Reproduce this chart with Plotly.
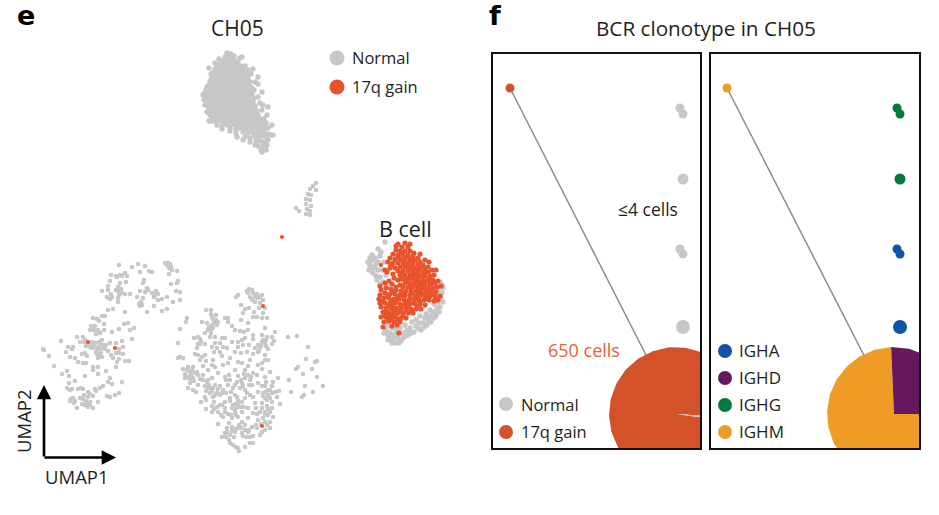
import numpy as np
import plotly.graph_objects as go

# UMAP positions (plot-wide scale, second coordinate runs downward)
cluster_top = [(227,53),(231,54),(225,57),(229,57),(234,56),(222,61),(226,60),(230,61),(234,60),(238,62),
(217,65),(221,64),(225,65),(229,64),(233,65),(237,64),(241,66),(209,68),(215,69),(219,68),(223,69),(227,68),(231,69),(235,68),(239,69),(243,70),
(213,73),(217,72),(221,73),(225,72),(229,73),(233,72),(237,73),(241,72),(245,74),(248,70),(212,77),(216,76),(220,77),(224,76),(228,77),(232,76),(236,77),(240,76),(244,77),(248,78),
(210,81),(214,80),(218,81),(222,80),(226,81),(230,80),(234,81),(238,80),(242,81),(246,80),(250,82),(209,85),(213,84),(217,85),(221,84),(225,85),(229,84),(233,85),(237,84),(241,85),(245,84),(249,85),(252,88),
(206,90),(210,89),(214,88),(218,89),(222,88),(226,89),(230,88),(234,89),(238,88),(242,89),(246,88),(250,90),(208,93),(212,92),(216,93),(220,92),(224,93),(228,92),(232,93),(236,92),(240,93),(244,92),(248,93),(252,94),
(206,97),(210,96),(214,97),(218,96),(222,97),(226,96),(230,97),(234,96),(238,97),(242,96),(246,97),(250,96),(254,98),(209,101),(213,100),(217,101),(221,100),(225,101),(229,100),(233,101),(237,100),(241,101),(245,100),(249,101),(253,102),
(207,105),(211,104),(215,105),(219,104),(223,105),(227,104),(231,105),(235,104),(239,105),(243,104),(247,105),(251,104),(255,106),(209,109),(213,108),(217,109),(221,108),(225,109),(229,108),(233,109),(237,108),(241,109),(245,108),(249,109),(253,108),(257,111),
(210,113),(214,112),(218,113),(222,112),(226,113),(230,112),(234,113),(238,112),(242,113),(246,112),(250,113),(254,112),(258,115),(212,117),(216,116),(220,117),(224,116),(228,117),(232,116),(236,117),(240,116),(244,117),(248,116),(252,117),(256,116),(260,119),
(212,121),(218,120),(222,121),(226,120),(230,121),(234,120),(238,121),(242,120),(246,121),(250,120),(254,121),(258,120),(262,122),(217,125),(224,124),(228,125),(232,124),(236,125),(240,124),(244,125),(248,124),(252,125),(256,124),(260,125),(264,126),
(222,129),(230,128),(236,129),(240,128),(244,129),(248,128),(252,129),(256,128),(260,129),(264,130),(268,128),(236,133),(243,132),(248,133),(252,132),(256,133),(260,132),(264,133),(268,134),(245,137),(250,138),(254,136),(258,137),(262,136),(266,137),(271,135),
(250,142),(256,141),(260,141),(264,142),(268,140),(258,146),(263,146),(267,145),(261,150),(266,150)]

cluster_top_rim = [(242,57),(253,69),(251,74),(258,77),(255,82),(258,84),(254,90),(262,92),(258,97),(260,103),(263,105),(268,107),(262,110),(267,115),(264,119),(266,123),(272,125),(273,135),(205,105),(204,100),(207,112),(210,115),(214,120),(217,122),(222,126),(230,131),(237,137),(243,140),(255,145),(265,148),(262,152),(203,95),(207,87),(211,74),(215,63),(219,59),(233,58),(240,58),(245,66),(249,73),(205,93),(209,121)]

cluster_upper_mid = [(316,183),(313,186),(310,189),(316,190),(308,194),(311,195),(306,199),(310,200),(306,204),(311,206),(296,208),(307,209),(310,211),(299,211),(306,214),(310,215)]

cluster_left_upper = [(119,265),(132,267),(138,264),(145,266),(165,263),(168,263),(170,264),(169,268),(172,270),(177,271),(169,274),(140,272),(149,271),(152,272),(125,273),(127,276),(111,275),(116,276),(120,275),(122,276),(110,281),(108,286),(120,283),(118,287),(116,290),(126,282),(144,280),(143,283),(178,281),(177,283),(171,284),(102,291),(108,290),(147,288),(145,292),(140,291),(176,291),(180,292),(122,293),(125,294),(130,294),(111,294),(107,297),(110,299),(118,298),(118,302),(137,297),(143,298),(152,293),(154,297),(158,294),(158,300),(162,299),(167,297),(173,302),(180,300),(139,304),(142,305),(154,306),(147,312),(162,311),(167,309),(108,310),(113,309),(125,312),
(167,265),(171,267),(118,291),(121,289),(119,295),(148,290),(155,295),(156,291),(141,302),(140,306),(168,263),(117,277),(112,297)]

cluster_left_lower = [(93,318),(97,319),(99,321),(102,316),(105,316),(104,324),(91,326),(95,326),(90,330),(94,330),(98,330),(100,333),(96,334),(104,330),(112,332),(119,329),(124,324),(128,323),(130,330),(134,328),(132,339),(61,341),(77,337),(83,337),(80,342),(85,340),(88,345),(93,345),(98,347),(102,340),(103,345),(92,348),(97,349),(100,349),(105,349),(110,343),(116,343),(122,341),(123,347),(108,351),(119,349),(116,353),(111,355),(119,353),(123,354),(119,359),(125,361),(129,361),(117,362),(116,367),(113,358),(98,356),(102,357),(85,353),(82,354),(87,356),(75,358),(78,362),(83,363),(86,363),(70,357),(66,352),(68,347),(73,347),(72,349),(43,349),(44,350),(49,356),(54,366),(62,374),(67,371),(69,376),(93,367),(98,367),(93,370),(106,371),(98,374),(85,376),(75,381),(69,383),(110,378),(108,382),(112,384),(122,382),(67,388),(72,389),(78,389),(83,389),(95,389),(100,388),(103,386),(88,392),(93,396),(88,397),(80,398),(73,398),(70,401),(75,401),(83,399),(107,396),(110,397),(115,395),(119,393),(98,402),(87,403),(90,405),(82,404),(77,408),(93,408),(88,407),(90,347),(95,343),(100,344),(86,346),(96,352),(101,353),
(92,342),(87,343),(90,345),(84,342),(94,347),(103,348),(99,342),(106,345),(98,358),(100,355),(97,354),(70,390),(71,399),(74,403),(85,405),(86,401),(90,402),(81,388),(84,395),(90,394),(96,391)]

cluster_middle = [(249,289),(248,293),(253,293),(257,294),(262,295),(250,297),(258,298),(263,300),(252,300),(255,302),(260,303),(238,295),(236,297),(241,305),(245,309),(249,308),(243,313),(254,312),(259,308),(265,308),(263,313),(257,317),(253,317),(262,318),(267,318),(241,320),(248,323),
(206,310),(211,310),(211,314),(216,315),(187,318),(186,322),(202,322),(207,323),(213,319),(218,322),(225,318),(228,318),(228,322),(212,325),(217,325),(208,330),(213,328),(211,333),(232,326),(235,330),(240,331),(265,328),(275,332),(180,329),(178,343),(194,338),(198,337),(201,341),(198,344),(197,348),(210,337),(215,337),(222,338),(225,338),(232,342),(215,343),(212,347),(220,343),(223,347),(217,348),(220,352),(227,348),(238,342),(242,340),(245,338),(253,335),(253,339),(262,335),(267,337),(272,337),(274,341),(262,342),(265,343),(258,345),(255,348),(260,348),(238,347),(243,345),(241,353),(247,352),(253,354),(265,355),(265,360),(268,360),(262,363),(258,365),(262,369),
(195,354),(198,355),(202,357),(205,355),(200,360),(206,361),(180,357),(178,358),(183,358),(213,360),(212,365),(215,367),(230,358),(223,365),(228,363),(238,362),(242,363),(248,366),(183,369),(188,367),(193,367),(190,372),(195,373),(188,377),(185,378),(193,378),(198,375),(203,375),(200,379),(190,383),(212,378),(218,373),(225,377),(229,375),(235,370),(245,370),(248,375),(253,373),(245,378),(250,380),(257,375),(265,377),(270,372),(237,382),(242,383),(252,385),(258,383),(278,378),(273,382),
(188,388),(193,390),(198,385),(205,386),(208,388),(213,388),(220,386),(223,390),(217,393),(210,393),(205,397),(201,402),(213,397),(220,395),(233,388),(240,388),(245,390),(262,386),(265,386),(270,390),(263,393),(268,395),(275,392),(279,391),(277,397),(267,400),(272,402),(280,404),(250,395),(245,398),(253,397),(237,397),(230,398),(225,402),(242,402),(255,403),(262,403),(267,406),(212,406),(217,407),(222,405),(206,409),(212,412),(218,412),(225,412),(223,417),(238,407),(235,412),(242,412),(238,417),(248,408),(253,413),(260,412),(265,412),(270,412),(273,417),(268,415),(263,418),(258,420),(270,422),(232,418),(229,423),(242,422),(248,418),(218,424),(232,427),(227,428),(238,428),(245,425),(252,427),(257,428),(267,425),(270,428),(265,430),(225,433),(222,437),(230,435),(235,432),(242,433),(248,432),(247,437),(253,436),(260,435),(250,443),(253,443),(230,443),(233,445),(238,448),(245,447),(239,451),(236,447),
(203,380),(208,380),(228,385),(231,392),(236,404),(232,408),(228,414),(244,407),(256,408),(258,392),(266,382),(272,386),(203,366),(208,370),(196,392),(214,402),(226,393),(238,376),(214,352),(205,344),(235,352),(249,345),(248,330),(244,332),(222,356),(250,360),(206,400),(258,352),(272,344),(268,349),
(252,290),(247,291),(255,297),(260,297),(212,317),(216,320),(214,323),(209,327),(211,330),(205,333),(200,339),(200,344),(263,340),(266,340),(261,346),(266,346),(259,351),(187,370),(192,370),(185,374),(191,375),(194,381),(197,372),(190,379),(209,385),(215,385),(218,389),(212,391),(206,391),(215,395),(222,393),(235,385),(241,380),(243,386),(249,385),(247,393),(268,390),(272,393),(265,398),(270,398),(263,396),(266,392),(235,395),(230,401),(238,400),(233,405),(238,403),(241,407),(236,415),(235,409),(231,415),(265,415),(268,409),(272,408),(262,408),(257,414),(265,422),(261,424),(256,425),(245,430),(241,428),(236,429),(232,431),(227,432),(239,425),(249,430),(226,437),(229,440),(234,437),(243,436),(250,437),(262,432),(220,405),(225,408),(214,409),(221,415),(211,388),(207,382),(251,377),(244,374),(226,380),(230,380)]

cluster_right_sparse = [(288,337),(297,336),(308,347),(306,359),(317,361),(315,362),(298,367),(296,369),(312,369),(303,374),(317,377),(289,380),(305,386),(323,386),(291,392),(313,392),(304,395),(302,397)]

cluster_b_normal = [(385,242),(378,249),(372,260),(370,265),(375,267),(378,270),(373,273),(380,277),(383,282),(387,287),(368,262),(375,258),(380,256),(384,262),(372,255),(378,262),(382,270),(386,275),(376,276),(380,284),(388,335),(393,340),(398,338),(403,333),(410,328),(423,323),(432,317),(440,307),(442,293),(440,282),
(386,330),(390,333),(394,335),(399,343),(395,343),(403,338),(408,335),(414,332),(418,328),(428,320),(436,312),(438,302),(443,288),(436,296),(420,316),(412,322),(405,325),(400,328),(392,328),(430,310),(426,314),(416,320),(434,304),(438,290),(441,298),(396,330),(407,330),(388,325),(434,318),(424,327),
(427,325),(431,322),(421,330),(416,326),(411,333),(405,336),(398,333),(390,338),(437,308),(433,312),(429,316),(439,312),(443,302),(442,285),(436,316),(425,318),(419,323),(401,341),(392,343),(388,340),(384,333),(376,264),(381,252),(373,268),(369,270),(377,280),(370,258)]

cluster_b_gain = [(405,243),(398,244),(402,247),(408,247),(396,250),(400,251),(405,251),(410,251),(414,253),(393,254),(398,255),(403,255),(408,255),(413,256),(418,258),(425,260),(390,258),(395,259),(400,259),(405,259),(410,259),(415,260),(420,262),(388,262),(393,263),(398,263),(403,263),(408,263),(413,264),(418,264),(423,265),(429,262),
(400,267),(405,267),(410,267),(415,268),(420,268),(425,268),(395,268),(390,268),(398,271),(403,271),(408,271),(413,271),(418,272),(423,272),(428,272),(432,270),(385,270),(393,274),(400,275),(405,275),(410,275),(415,275),(420,276),(425,276),(430,276),(434,275),
(403,279),(408,279),(413,279),(418,279),(423,280),(428,280),(433,280),(398,280),(405,283),(410,283),(415,283),(420,283),(425,284),(430,284),(435,283),(438,281),(400,285),(392,284),(385,283),(403,287),(408,287),(413,287),(418,287),(423,288),(428,288),(433,288),(437,287),
(381,290),(386,288),(391,289),(396,290),(401,291),(406,291),(411,291),(416,291),(421,292),(426,292),(431,292),(436,292),(380,295),(385,293),(390,294),(395,294),(400,295),(405,295),(410,295),(415,296),(420,296),(425,296),(430,296),(435,297),(440,296),
(379,299),(384,298),(389,298),(394,299),(399,299),(404,300),(409,300),(414,300),(419,300),(424,300),(429,300),(434,301),(380,303),(385,303),(390,303),(395,303),(400,304),(405,304),(410,304),(415,304),(420,304),(425,305),
(381,307),(386,308),(391,308),(396,308),(401,308),(406,308),(411,309),(416,309),(421,309),(383,312),(388,312),(393,312),(398,313),(403,313),(408,313),(413,313),(381,317),(386,317),(391,317),(396,317),(401,318),(406,318),(384,322),(389,321),(394,322),(400,322),(383,327),(392,326),(399,333),
(402,253),(407,257),(412,261),(404,265),(409,269),(414,273),(419,269),(424,275),(429,279),(411,277),(416,281),(421,285),(407,281),(412,285),(426,289),(431,290),(396,287),(393,292),(388,296),(383,301),(392,301),(398,297),(404,293),(410,298),(417,298),(422,294),(427,298),(418,307),(408,306),(400,311),(394,315),(388,319),(403,316),(412,311),(392,306),(386,311),(397,325),(401,279),(394,278),(389,281),(380,286),(387,272),(391,265),(396,246),(410,244),(420,254),(428,267),(436,270),(441,286),(438,300),
(415,285),(420,290),(425,282),(418,277),(413,269),(408,265),(403,261),(398,257),(410,287),(404,297),(414,302),(408,302),(420,302),(428,294),(418,294),(412,293),(396,301),(389,305),(395,310),(401,306),(406,310),(390,314),(385,315),(392,319),(398,320),(425,272),(431,284),(433,294),(405,277),(402,273)]

gain_scattered = [(282,237),(88,342),(115,348),(263,306),(262,426),(381,265)]

# Clonotype network: small clones and the large clone, with heavy-chain labels
small_x_left = [680,683,683,680,683,683]
small_x_right = [897,900,900,897,900,900]
small_y = [108,114,179,249,254,327]
small_sizes = [9,9,11,9,9,14]
small_isotype = ["#017a41","#017a41","#017a41","#0f55a5","#0f55a5","#0f55a5"]
single_x_left, single_x_right, single_y = 510, 727, 88
large_x_left, large_x_right, large_y = 676, 894, 414
large_radius = 67
large_status_cells = {"17q gain": 642, "Normal": 8}
large_isotype_cells = {"IGHM": 483, "IGHD": 167}

GREY, RED, PIE_RED = "#c6c7c9", "#e9532b", "#d4522a"
BLUE, PURPLE, GREEN, ORANGE = "#0f55a5", "#66185f", "#017a41", "#ef9c26"
FONT = "Open Sans"
TEXT = "#231f20"


def sector(cx, cy, r, a0, a1):
    """Polygon of a pie slice between two angles (degrees, anticlockwise from east)."""
    n = max(2, int(abs(a1 - a0) / 14) + 1)
    t = np.radians(np.linspace(a0, a1, n))
    return ([cx, *(cx + r * np.cos(t)), cx], [cy, *(cy - r * np.sin(t)), cy])


def dots(x, y, size, color, xa, ya):
    fig.add_trace(go.Scatter(x=x, y=y, mode="markers", xaxis=xa, yaxis=ya,
                             marker=dict(size=size, color=color, opacity=1, line=dict(width=0))))


def slice_(cx, cy, a0, a1, color, xa, ya):
    xs, ys = sector(cx, cy, large_radius, a0, a1)
    fig.add_trace(go.Scatter(x=xs, y=ys, mode="lines", fill="toself", fillcolor=color,
                             line=dict(width=0), xaxis=xa, yaxis=ya))


fig = go.Figure()

dense_grey = cluster_top + cluster_top_rim + cluster_b_normal
sparse_grey = cluster_upper_mid + cluster_left_upper + cluster_left_lower + cluster_middle + cluster_right_sparse
dots([p[0] for p in dense_grey], [p[1] for p in dense_grey], 5.4, GREY, "x", "y")
dots([p[0] for p in sparse_grey], [p[1] for p in sparse_grey], 4.6, GREY, "x", "y")
dots([p[0] for p in cluster_b_gain], [p[1] for p in cluster_b_gain], 5.2, RED, "x", "y")
dots([p[0] for p in gain_scattered], [p[1] for p in gain_scattered], 4.2, RED, "x", "y")
dots([337, 337], [58, 87], 15, [GREY, RED], "x", "y")

# panel f: edges, nodes
for ax_x, ax_y, sx, x0, cx, node_colors, single_color in [
    ("x2", "y2", small_x_left, single_x_left, large_x_left, [GREY] * 6, PIE_RED),
    ("x3", "y3", small_x_right, single_x_right, large_x_right, small_isotype, ORANGE),
]:
    fig.add_trace(go.Scatter(x=[x0, cx], y=[single_y, large_y], mode="lines",
                             line=dict(color="#8c8c8c", width=1.5), xaxis=ax_x, yaxis=ax_y))
    dots(sx, small_y, small_sizes, node_colors, ax_x, ax_y)
    dots([x0], [single_y], 9, single_color, ax_x, ax_y)

# status pie: the normal slice sits just below east
normal_deg = 360 * large_status_cells["Normal"] / sum(large_status_cells.values())
slice_(large_x_left, large_y, -3.5, 360 - 3.5 - normal_deg, PIE_RED, "x2", "y2")
slice_(large_x_left, large_y, -3.5 - normal_deg, -3.5, GREY, "x2", "y2")

# isotype pie: IGHD from east anticlockwise to just past north
ighd_deg = 360 * large_isotype_cells["IGHD"] / sum(large_isotype_cells.values())
slice_(large_x_right, large_y, ighd_deg, 360, ORANGE, "x3", "y3")
slice_(large_x_right, large_y, 0, ighd_deg, PURPLE, "x3", "y3")

# in-panel legends
dots([506, 506], [404, 432], 14, [GREY, PIE_RED], "x2", "y2")
dots([725, 725, 725, 725], [351, 378, 405, 432], 14, [BLUE, PURPLE, GREEN, ORANGE], "x3", "y3")

hidden = dict(visible=False, fixedrange=True)
panel = dict(showgrid=False, zeroline=False, showticklabels=False, ticks="", showline=True, mirror=True,
             linecolor="#111111", linewidth=2, fixedrange=True)
W, H = 939, 515
fig.update_layout(
    width=W, height=H, margin=dict(l=0, r=0, t=0, b=0), paper_bgcolor="white", plot_bgcolor="rgba(0,0,0,0)",
    showlegend=False, font=dict(family=FONT, color=TEXT),
    xaxis=dict(domain=[0, 1], range=[0, W], **hidden),
    yaxis=dict(domain=[0, 1], range=[H, 0], **hidden),
    xaxis2=dict(domain=[493 / W, 700 / W], range=[493, 700], anchor="y2", **panel),
    yaxis2=dict(domain=[1 - 448 / H, 1 - 54 / H], range=[448, 54], anchor="x2", **panel),
    xaxis3=dict(domain=[711 / W, 919 / W], range=[711, 919], anchor="y3", **panel),
    yaxis3=dict(domain=[1 - 448 / H, 1 - 54 / H], range=[448, 54], anchor="x3", **panel),
)


def label(x, y, text, size=16, color=TEXT, anchor="left", angle=0, weight=None, family=FONT):
    fig.add_annotation(x=x, y=y, xref="x", yref="y", text=text, showarrow=False, xanchor=anchor, yanchor="middle",
                       textangle=angle, borderpad=0, borderwidth=0,
                       font=dict(size=size, color=color, family=family, weight=weight))


label(26, 15.8, "e", 27, "#000000", "center", weight=700, family="DejaVu Sans")
label(495, 15.8, "f", 27, "#000000", "center", weight=700, family="DejaVu Sans")
label(237, 27.5, "CH05", 21, anchor="center")
label(706, 27.5, "BCR clonotype in CH05", 20.7, anchor="center")
label(352, 57.5, "Normal", 16.5)
label(352, 86.5, "17q gain", 16.5)
label(405, 228.5, "B cell", 21.5, anchor="center")
label(648, 209, "≤4 cells", 17.5, anchor="center")
label(584, 350, "650 cells", 18, "#e2613c", "center")
label(521, 404, "Normal", 16.5)
label(521, 431, "17q gain", 16.5)
for y, t in zip([350, 377, 404, 431], ["IGHA", "IGHD", "IGHG", "IGHM"]):
    label(739, y, t, 17)
label(77, 476.5, "UMAP1", 18.5, anchor="center")
label(23, 421, "UMAP2", 18.5, anchor="center", angle=-90)
for tip, tail in [((44, 385), (44, 458)), ((116, 457.5), (43, 457.5))]:
    fig.add_annotation(x=tip[0], y=tip[1], ax=tail[0], ay=tail[1], xref="x", yref="y", axref="x", ayref="y",
                       showarrow=True, arrowhead=2, arrowsize=1.1, arrowwidth=2.6, arrowcolor="#000000", text="")

fig.write_html("out.html", config=dict(displayModeBar=False),
               post_script="document.body.style.margin='0';document.documentElement.style.overflow='hidden';")
